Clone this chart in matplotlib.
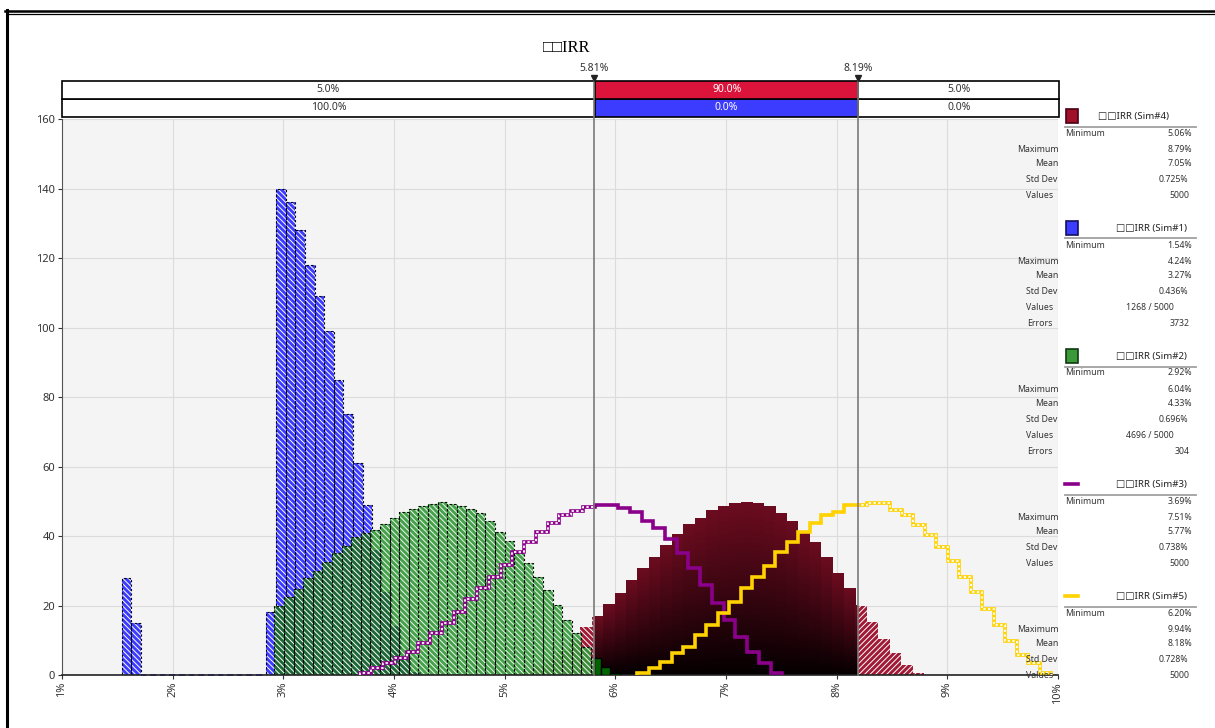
import numpy as np
import matplotlib
matplotlib.use("Agg")
import matplotlib.pyplot as plt
from matplotlib.patches import Rectangle
from matplotlib.lines import Line2D
from matplotlib.colors import LinearSegmentedColormap

plt.rcParams['font.family'] = ['Noto Sans', 'DejaVu Sans']
plt.rcParams['hatch.linewidth'] = 0.7

W, H = 1215, 728

# ---- data ----
title = '\u25a1\u25a1IRR'
lo_cut, hi_cut = 5.81, 8.19
band_top = ['5.0%', '90.0%', '5.0%']
band_bottom = ['100.0%', '0.0%', '0.0%']
x_ticks = list(range(1, 11))
y_ticks = list(range(0, 161, 20))

# Sim#1 (blue)
sim1_range = (1.54, 4.24)
sim1_counts = [28, 15, 0, 0, 0, 0, 0, 0, 0, 0, 0, 0, 0, 0, 0,
               18, 140, 136, 128, 118, 109, 99, 85, 75, 61, 49, 36, 24, 14, 5, 1]
# Sim#2 (green)
sim2_range = (2.92, 6.04)
sim2_counts = [20, 22.5, 24.7, 27.8, 29.9, 32.6, 35.2, 37.2, 39.8, 41.0, 41.7, 43.4,
               45.1, 46.8, 47.7, 48.7, 49.1, 49.7, 49.2, 48.6, 47.7, 46.5, 44.3, 41.2,
               38.7, 35.2, 32.1, 28.1, 24.5, 20.1, 15.8, 12.0, 8.0, 5.0, 2.4, 0.5]
# Sim#4 (red)
sim4_range = (5.06, 8.79)
sim4_counts = [0.5, 1.2, 2.5, 4.5, 7.0, 10.0, 13.7, 16.8, 20.4, 23.5, 27.3, 30.7,
               33.9, 37.4, 40.3, 43.2, 45.1, 47.2, 48.6, 49.4, 49.7, 49.4, 48.4, 46.5,
               44.1, 40.8, 38.0, 33.9, 29.3, 24.9, 19.9, 15.3, 10.3, 6.2, 2.9, 0.5]
# Sim#3 (purple line)
sim3_range = (3.69, 7.51)
sim3_counts = [0.7, 1.9, 3.5, 5.0, 6.7, 9.3, 12.0, 15.1, 18.2, 21.8, 24.9, 28.3,
               31.7, 35.5, 38.4, 41.1, 43.6, 46.0, 47.2, 48.4, 48.9, 48.9, 48.0, 46.8,
               44.4, 42.2, 39.0, 35.0, 30.7, 25.9, 20.6, 15.8, 11.0, 6.5, 3.5, 0.7]
# Sim#5 (yellow line)
sim5_range = (6.20, 9.94)
sim5_counts = [0.7, 1.9, 3.8, 6.2, 8.2, 11.5, 14.4, 17.8, 21.1, 24.9, 28.3, 31.4,
               35.5, 38.4, 41.2, 43.6, 46.0, 47.0, 48.9, 48.9, 49.4, 49.4, 47.5, 46.0,
               43.2, 40.3, 36.9, 32.8, 28.3, 23.8, 18.9, 14.4, 9.8, 5.8, 3.4, 0.7]

stat_labels = ['Minimum', 'Maximum', 'Mean', 'Std Dev', 'Values', 'Errors']
sim4_stats = ['5.06%', '8.79%', '7.05%', '0.725%', '5000']
sim1_stats = ['1.54%', '4.24%', '3.27%', '0.436%', '1268 / 5000', '3732']
sim2_stats = ['2.92%', '6.04%', '4.33%', '0.696%', '4696 / 5000', '304']
sim3_stats = ['3.69%', '7.51%', '5.77%', '0.738%', '5000']
sim5_stats = ['6.20%', '9.94%', '8.18%', '0.728%', '5000']

BLUE = '#3c3cff'
GREEN = '#339838'
OVER_GREEN = '#1d6836'
DKGREEN = '#006400'
CRIMSON = '#dc143c'
TAIL_RED = '#a01a36'
PURPLE = '#8b008b'
YELLOW = '#ffd200'


def fx(px):
    return px / W


def fy(py):
    return 1 - py / H


def split(x0, x1):
    out = []
    if x0 < lo_cut:
        out.append((x0, min(x1, lo_cut), False))
    a, b = max(x0, lo_cut), min(x1, hi_cut)
    if a < b:
        out.append((a, b, True))
    if x1 > hi_cut:
        out.append((max(x0, hi_cut), x1, False))
    return out


def bins(rng, counts):
    return np.linspace(rng[0], rng[1], len(counts) + 1)


def step_xy(edges, counts):
    xs = np.repeat(edges, 2)
    ys = np.concatenate([[0], np.repeat(counts, 2), [0]])
    return xs, ys


fig = plt.figure(figsize=(W / 100, H / 100), dpi=100)
fig.patch.set_facecolor('white')

# ---- percentile bands above the plot ----
bax = fig.add_axes([fx(62), fy(117), fx(1059) - fx(62), 36 / H])
bax.set_xlim(1, 10)
bax.set_ylim(0, 2)
bax.axis('off')
segs = [(1, lo_cut), (lo_cut, hi_cut), (hi_cut, 10)]
for row, (labels, mid) in enumerate([(band_bottom, BLUE), (band_top, CRIMSON)]):
    for i, ((a, b), lab) in enumerate(zip(segs, labels)):
        fc = mid if i == 1 else 'white'
        bax.add_patch(Rectangle((a, row), b - a, 1, facecolor=fc, edgecolor='black',
                                lw=1.2, clip_on=False))
        bax.text((a + b) / 2, row + 0.5, lab, ha='center', va='center', fontsize=7.5,
                 color='white' if i == 1 else '#333333')

# ---- main axes ----
ax = fig.add_axes([fx(62), fy(675), fx(1058) - fx(62), (675 - 119) / H])
ax.set_facecolor('#f4f4f4')
ax.set_autoscale_on(False)
ax.set_xlim(1, 10)
ax.set_ylim(0, 160)
ax.set_xticks(x_ticks)
ax.set_xticklabels([f'{t}%' for t in x_ticks], rotation=90)
ax.set_yticks(y_ticks)
ax.grid(True, color='#dcdcdc', lw=0.8)
ax.set_axisbelow(True)
for s in ['top', 'right']:
    ax.spines[s].set_visible(False)
ax.spines['left'].set_color('#555555')
ax.spines['bottom'].set_color('#222222')
ax.spines['bottom'].set_linewidth(1.2)
ax.tick_params(axis='both', labelsize=8, colors='#333333', length=3, width=0.8, pad=2)

hatch_l = '\\' * 6
hatch_r = '/' * 6

# blue (Sim#1)
e1 = bins(sim1_range, sim1_counts)
for x0, x1, h in zip(e1[:-1], e1[1:], sim1_counts):
    for a, b, inside in split(x0, x1):
        if h <= 0:
            ax.plot([a, b], [0, 0], color=BLUE, lw=1.3, ls=(0, (3, 2)), zorder=2.05, clip_on=False)
            continue
        ax.bar(a, h, b - a, align='edge', color=BLUE, edgecolor='white', hatch=hatch_l, lw=0, zorder=2)
        ax.bar(a, h, b - a, align='edge', fill=False, edgecolor='black', lw=0.8,
               ls=(0, (2, 2)), zorder=2.05)

# red (Sim#4)
red_cmap = LinearSegmentedColormap.from_list('redgrad', [(0, '#050001'), (0.45, '#35050f'), (1, '#6c0c20')])
grad = np.linspace(0, 1, 64).reshape(-1, 1)
e4 = bins(sim4_range, sim4_counts)
for x0, x1, h in zip(e4[:-1], e4[1:], sim4_counts):
    for a, b, inside in split(x0, x1):
        if inside:
            ax.imshow(grad, extent=(a, b, 0, h), cmap=red_cmap, origin='lower', aspect='auto',
                      interpolation='bilinear', zorder=2.2)
        else:
            ax.bar(a, h, b - a, align='edge', color=TAIL_RED, edgecolor='white',
                   hatch=hatch_l if a < lo_cut else hatch_r, lw=0, zorder=2.2)

# green (Sim#2), darker where it lies over the blue histogram
e2 = bins(sim2_range, sim2_counts)
for x0, x1, h in zip(e2[:-1], e2[1:], sim2_counts):
    for a, b, inside in split(x0, x1):
        if inside:
            ax.bar(a, h, b - a, align='edge', color=DKGREEN, edgecolor='black', lw=1, zorder=2.6)
            continue
        ax.bar(a, h, b - a, align='edge', color=GREEN, edgecolor='white', hatch=hatch_l,
               lw=0, alpha=0.9, zorder=2.4)
        for c, d, hb in zip(e1[:-1], e1[1:], sim1_counts):
            o0, o1 = max(a, c), min(b, d)
            if o0 < o1 and hb > 0:
                ax.bar(o0, min(h, hb), o1 - o0, align='edge', color=OVER_GREEN, edgecolor='white',
                       hatch=hatch_l, lw=0, zorder=2.42)
        ax.bar(a, h, b - a, align='edge', fill=False, edgecolor='black', lw=0.8,
               ls=(0, (2, 2)), zorder=2.45)

# step lines (Sim#3, Sim#5)
for rng, counts, col, z in [(sim3_range, sim3_counts, PURPLE, 3), (sim5_range, sim5_counts, YELLOW, 3.2)]:
    xs, ys = step_xy(bins(rng, counts), counts)
    ax.plot(xs, ys, color=col, lw=2.6, zorder=z, solid_joinstyle='miter', solid_capstyle='butt')
    for c0, c1 in [(0, lo_cut), (hi_cut, 11)]:
        ln, = ax.plot(xs, ys, color='white', lw=1.3, ls=(0, (1.3, 1.3)), zorder=z + 0.05)
        ln.set_clip_path(Rectangle((c0, -10), c1 - c0, 200, transform=ax.transData))

# delimiters
for v in [lo_cut, hi_cut]:
    ax.axvline(v, 0, 1.077, color='#7a7a7a', lw=1.2, zorder=5, clip_on=False)
    ax.plot([v], [1.0745], marker='v', ms=5, color='#222222', transform=ax.get_xaxis_transform(),
            clip_on=False, zorder=6)
    ax.text(v, 1.0905, f'{v:.2f}%', transform=ax.get_xaxis_transform(), ha='center', va='center',
            fontsize=7.5, color='#333333')

# title
fig.text(fx(567), fy(48), title, ha='center', va='center', fontsize=12,
         family=['Liberation Serif', 'DejaVu Sans'])

# ---- legend / statistics panel ----
entries = [
    ('Sim#4', sim4_stats, 'box', ('#a0102a', '#4a0010'), 133, 1133),
    ('Sim#1', sim1_stats, 'box', (BLUE, '#101060'), 245, 1151),
    ('Sim#2', sim2_stats, 'box', ('#3a9a3a', '#123a12'), 373, 1151),
    ('Sim#3', sim3_stats, 'line', PURPLE, 501, 1151),
    ('Sim#5', sim5_stats, 'line', YELLOW, 613, 1151),
]
row_off = [0, 16, 31, 47, 62.5, 78]
label_right = {'Maximum': 1059, 'Mean': 1058, 'Std Dev': 1057, 'Values': 1053, 'Errors': 1053}
value_right = {'Minimum': 1192, 'Maximum': 1192, 'Mean': 1192, 'Std Dev': 1188,
               'Values': 1189, 'Errors': 1190}
for name, stats, kind, col, y0, tcx in entries:
    ty = y0 - 17
    if kind == 'box':
        fig.add_artist(Rectangle((fx(1065.5), fy(ty + 6.5)), 12.5 / W, 13 / H, transform=fig.transFigure,
                                 facecolor=col[0], edgecolor=col[1], lw=1.2))
    else:
        fig.add_artist(Line2D([fx(1065), fx(1078)], [fy(ty), fy(ty)], color=col, lw=2.6))
    fig.text(fx(tcx), fy(ty), f'{title} ({name})', ha='center', va='center', fontsize=7,
             color='#222222')
    fig.add_artist(Line2D([fx(1065), fx(1196)], [fy(y0 - 6.5), fy(y0 - 6.5)], color='#a0a0a0', lw=1.3))
    for lab, val, dy in zip(stat_labels, stats, row_off):
        yy = fy(y0 + dy)
        if lab == 'Minimum':
            fig.text(fx(1065), yy, lab, ha='left', va='center', fontsize=6.3, color='#333333')
        else:
            fig.text(fx(label_right[lab]), yy, lab, ha='right', va='center', fontsize=6.3,
                     color='#333333', zorder=10)
        if '/' in val:
            fig.text(fx(1150), yy, val, ha='center', va='center', fontsize=6.3, color='#333333')
        else:
            fig.text(fx(value_right[lab]), yy, val, ha='right', va='center', fontsize=6.3,
                     color='#333333')

# outer double frame (top and left edges)
for off, lw in [(0, 1.8), (3, 0.9)]:
    fig.add_artist(Line2D([fx(5 + off), 1], [fy(10.5 + off), fy(10.5 + off)], color='black', lw=lw))
fig.add_artist(Line2D([fx(6.5), fx(6.5)], [fy(9.5), 0], color='black', lw=2.2))

fig.savefig('out.png', dpi=100, facecolor='white')
